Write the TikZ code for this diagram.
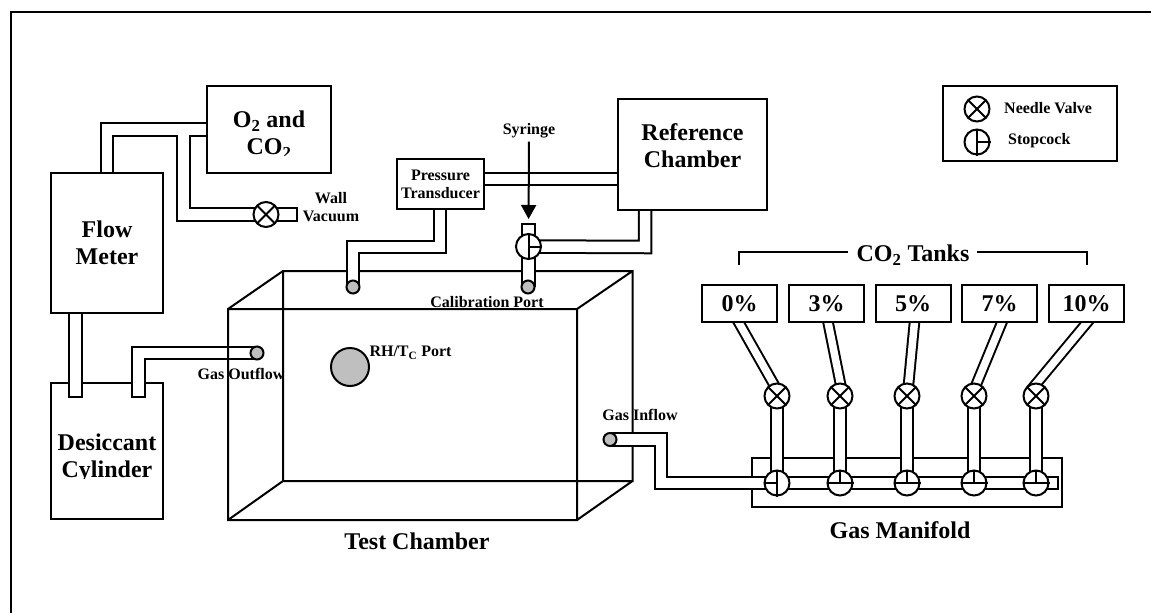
\documentclass[tikz,border=0pt]{standalone}
\usepackage{fontspec}
\setmainfont{Liberation Serif}
\usetikzlibrary{arrows.meta}
\newcommand{\fs}[2]{\fontsize{#1}{#2}\selectfont\bfseries}
\pgfdeclarelayer{low}
\pgfdeclarelayer{pipesA}
\pgfdeclarelayer{cham}
\pgfdeclarelayer{pipesB}
\pgfsetlayers{low,pipesA,cham,pipesB,main}
\tikzset{
  x=1pt,y=-1pt,
  ln/.style={draw=black,line width=2pt},
  box/.style={ln,fill=white,rectangle,inner sep=0pt,align=center},
  pipeb/.style={line width=14.5pt,draw=black,line join=miter},
  pipew/.style={line width=10.5pt,draw=white,line join=miter},
  diagb/.style={line width=11.5pt,draw=black,shorten <=-4pt},
  diagw/.style={line width=7.5pt,draw=white,shorten <=-4pt},
  port/.style={ln,circle,fill=black!25,minimum size=13pt,inner sep=0pt},
  valve/.style={ln,circle,fill=white,minimum size=25pt,inner sep=0pt},
  lab/.style={font=\fs{16}{18},inner sep=0pt,align=center},
  big/.style={font=\fs{24}{27},inner sep=0pt,align=center},
  mark line/.style={line width=2pt},
  cross line/.style={line width=2pt,shorten <=1.5pt,shorten >=1.5pt},
}
\newcommand{\needle}[2]{%
  \node[valve] (#1) at (#2) {};
  \draw[cross line] (#1.north west) -- (#1.south east);
  \draw[cross line] (#1.north east) -- (#1.south west);}
\newcommand{\stopT}[2]{%
  \node[valve] (#1) at (#2) {};
  \draw[mark line] (#1.north) -- (#1.south) (#1.center) -- (#1.east);}
\newcommand{\stopU}[2]{%
  \node[valve] (#1) at (#2) {};
  \draw[mark line] (#1.west) -- (#1.east) (#1.center) -- (#1.north);}
\newcommand{\stopL}[2]{%
  \node[valve] (#1) at (#2) {};
  \draw[mark line] (#1.north) -- (#1.south) (#1.center) -- (#1.west);}
\begin{document}
\begin{tikzpicture}
\useasboundingbox (0,0) rectangle (1151,613);
% frame
\coordinate (frA) at (11,613); \coordinate (frB) at (11,12); \coordinate (frC) at (1151,12);
\draw[line width=2pt] (frA) -- (frB) -- (frC);
% boxes
\node[box,minimum width=124pt,minimum height=87pt] (o2) at (269,129.5) {};
\node[box,minimum width=112pt,minimum height=140pt,font=\fs{24}{27}] (flow) at (107,243) {Flow\\Meter};
\node[box,minimum width=87pt,minimum height=50pt,font=\fs{16}{18}] (press) at (440.5,184) {Pressure\\Transducer};
\node[box,minimum width=149pt,minimum height=111pt] (ref) at (692.5,154.5) {};
\node[big] (reft) at (692.5,145.5) {Reference\\Chamber};
\node[box,minimum width=174pt,minimum height=75pt] (legend) at (1030,123.5) {};
\foreach \n/\x/\t in {t0/739.5/0\%,t3/826.5/3\%,t5/913/5\%,t7/999.5/7\%,t10/1086.5/10\%}
  \node[box,minimum width=75pt,minimum height=37pt,font=\fs{24}{27}] (\n) at (\x,303.5) {\t};
\begin{pgfonlayer}{low}
  \node[box,minimum width=112pt,minimum height=136pt] (des) at (107,451) {};
  \node[box,minimum width=310pt,minimum height=49pt] (mani) at (907,482.5) {};
\end{pgfonlayer}
% valves
\needle{vac}{266,214.5}
\stopT{sc}{528.5,246.5}
\needle{nv0}{777,396} \needle{nv3}{840,396} \needle{nv5}{907,396} \needle{nv7}{974,396} \needle{nv10}{1036,396}
\stopL{sc0}{777,483} \stopU{sc3}{840,483} \stopU{sc5}{907,483} \stopU{sc7}{974,483} \stopU{sc10}{1036,483}
\needle{lgn}{977,109}
\stopT{lgs}{977,142}
% ports
\node[port] (pO) at (257,353) {};
\node[port] (pP) at (353,287) {};
\node[port] (pC) at (528,287) {};
\node[port] (pI) at (610,439.5) {};
\node[ln,circle,fill=black!25,minimum size=38pt,inner sep=0pt] (rh) at (350,367) {};
% pipe way points
\coordinate (jn) at (183.5,129.5);
\coordinate (vacEnd) at (296,214.5);
\coordinate (fs) at (75.5,313);
\coordinate (desA) at (75.5,396);
\coordinate (desB) at (138.5,396);
\coordinate (prA) at (484,179);
\coordinate (prB) at (618,179);
\coordinate (ps) at (440,209);
\coordinate (rs) at (645,210);
\coordinate (calTop) at (528.5,225);
\coordinate (maniEnd) at (1057,483);
\begin{pgfonlayer}{pipesA}
\foreach \st/\ex in {pipeb/2,pipew/0}{
  \draw[\st] (flow.north) -- (flow.north |- o2.west) -- (o2.west);
  \draw[\st] (jn) -- (jn |- vac) -- ([xshift=\ex pt]vacEnd);
  \draw[\st] (fs) -- ([yshift=-\ex pt]desA);
  \draw[\st] ([yshift=-\ex pt]desB) -- (desB |- pO) -- (pO.center);
  \draw[\st] (prA) -- (prB);
}
\end{pgfonlayer}
% test chamber
\coordinate (fa) at (228,309); \coordinate (fb) at (577,309); \coordinate (fc) at (577,520); \coordinate (fd) at (228,520);
\coordinate (ba) at (283,271); \coordinate (bb) at (632.5,271); \coordinate (bc) at (632.5,481); \coordinate (bd) at (283,481);
\begin{pgfonlayer}{cham}
\draw[line width=2pt,line join=miter] (fa)--(fb)--(fc)--(fd)--cycle (ba)--(bb)--(bc)--(bd)--cycle (fa)--(ba) (fb)--(bb) (fc)--(bc) (fd)--(bd);
\end{pgfonlayer}
\begin{pgfonlayer}{pipesB}
\foreach \st/\ex in {pipeb/2,pipew/0}{
  \draw[\st] (ps) -- (440,247) -- (353,247) -- (pP.center);
  \draw[\st] (rs) -- (645,247) -- (sc.center);
  \draw[\st] ([yshift=\ex pt]calTop) -- (pC.center -| calTop);
  \draw[\st] (pI.center) -- (661,439.5) -- (661,483) -- ([xshift=\ex pt]maniEnd);
  \draw[\st] (nv0.center) -- (sc0.center);
  \draw[\st] (nv3.center) -- (sc3.center);
  \draw[\st] (nv5.center) -- (sc5.center);
  \draw[\st] (nv7.center) -- (sc7.center);
  \draw[\st] (nv10.center) -- (sc10.center);
}
\foreach \st in {diagb,diagw}{
  \draw[\st] (738.5,322) -- (777,390);
  \draw[\st] (828,322) -- (841.7,390);
  \draw[\st] (914.5,322) -- (908,390);
  \draw[\st] (1002,322) -- (974,390);
  \draw[\st] (1087.5,322) -- (1031,390);
}
\end{pgfonlayer}
% clipped labels
\begin{scope}
  \clip (210,90) rectangle (328,155.5);
  \node[big] (o2t) at (269,135) {O\textsubscript{2} and\\CO\textsubscript{2}};
\end{scope}
\begin{scope}
  \clip (53,420) rectangle (161,478.5);
  \node[big] (dest) at (107,458.5) {Desiccant\\Cylinder};
\end{scope}
% other labels
\node[lab] (wall) at (331,207) {Wall\\Vacuum};
\node[lab] (syr) at (529,131) {Syringe};
\draw[line width=2pt,-{Triangle[length=14pt,width=15pt]},shorten <=3pt,shorten >=14pt] (syr.south) -- (sc.north);
\node[lab] (calp) at (487,302) {Calibration Port};
\node[lab] (gout) at (241,374) {Gas Outflow};
\node[lab] (gin) at (640,415) {Gas Inflow};
\node[lab] (rht) at (410.5,353) {RH/T\textsubscript{C} Port};
\node[big] (tc) at (417,541) {Test Chamber};
\node[big] (gm) at (900,530) {Gas Manifold};
\node[big] (co2) at (913,255) {CO\textsubscript{2} Tanks};
\coordinate (brLa) at (739,265); \coordinate (brLb) at (739,252); \coordinate (brLc) at (848,252);
\coordinate (brRa) at (1087,265); \coordinate (brRb) at (1087,252); \coordinate (brRc) at (977,252);
\draw[line width=2pt] (brLa) -- (brLb) -- (brLc) (brRa) -- (brRb) -- (brRc);
\node[lab,anchor=west] (lgnt) at (1004,108) {Needle Valve};
\node[lab,anchor=west] (lgst) at (1008,141) {Stopcock};
\end{tikzpicture}
\end{document}
